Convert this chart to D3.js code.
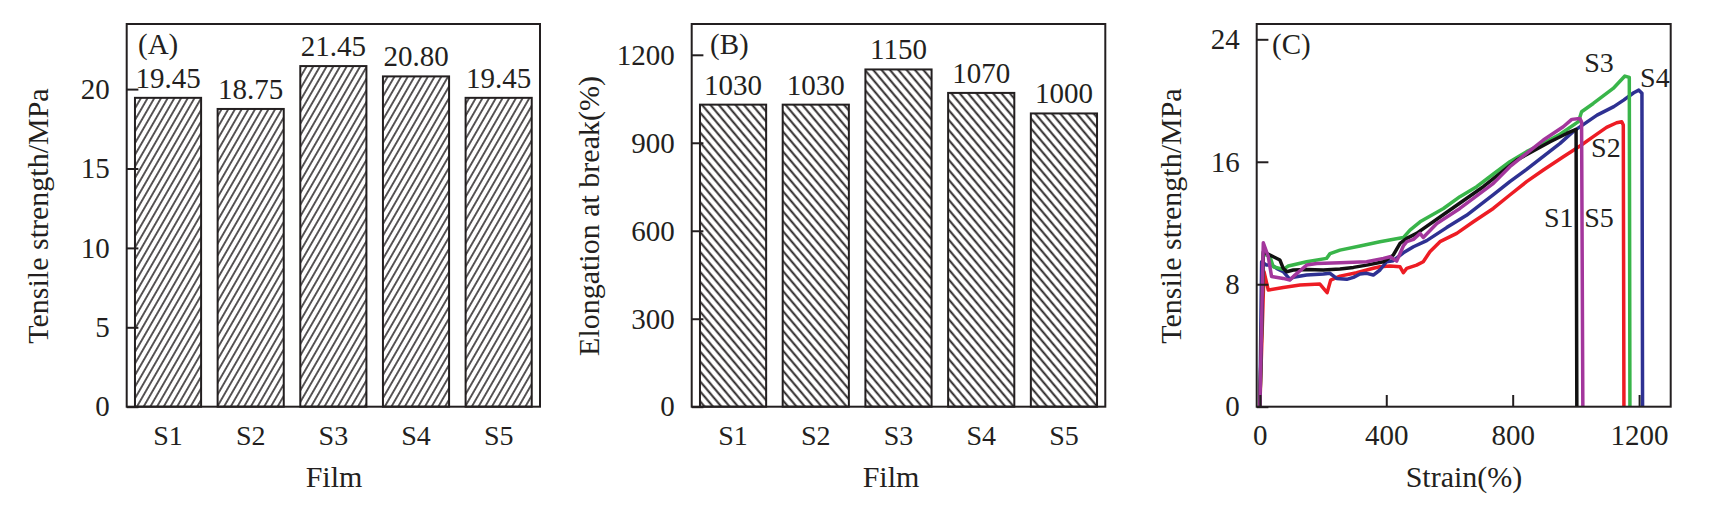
<!DOCTYPE html>
<html lang="en">
<head>
<meta charset="UTF-8">
<title>Film mechanical properties</title>
<script src="https://d3js.org/d3.v7.min.js"></script>
</head>
<body style="margin:0;background:#fff">
<div id="content"></div>
<script>
// ---- data ----
const films = ["S1", "S2", "S3", "S4", "S5"];
const tensile = [19.45, 18.75, 21.45, 20.80, 19.45];
const tensileLabels = ["19.45", "18.75", "21.45", "20.80", "19.45"];
const elongation = [1030, 1030, 1150, 1070, 1000];
const tensileTicks = [0, 5, 10, 15, 20];
const elongTicks = [0, 300, 600, 900, 1200];
const strainTicks = [0, 400, 800, 1200];
const stressTicks = [0, 8, 16, 24];

// stress-strain curves: [strain %, stress MPa]
const curveS1 = [[0,0],[10.9,10.12],[32,9.9],[63.6,9.58],[74,9.04],[84.7,8.82],[105.8,8.93],[148,8.97],[200.7,8.93],[253.5,8.99],[296,9.1],[338,9.25],[391,9.47],[422,9.9],[443.6,10.67],[464.7,11.0],[496,11.32],[601.6,12.85],[707,14.37],[813,16.11],[918.5,17.31],[971,17.85],[1000.6,18.11],[1003,0]];
const curveS2 = [[0,0],[13,8.82],[26.7,7.62],[74,7.79],[127,7.95],[190,8.01],[206,7.62],[213,7.45],[224,8.27],[253.5,8.53],[306,8.75],[359,9.04],[380,9.14],[412,9.19],[443.6,9.14],[454,8.75],[464.7,9.04],[496,9.25],[517,9.47],[538,10.12],[570,10.78],[623,11.32],[675.6,12.08],[738.6,12.95],[791,13.83],[844,14.7],[897,15.46],[960.3,16.33],[1013,17.03],[1055,17.64],[1097,18.25],[1129,18.55],[1145,18.62],[1150,18.4],[1152,0]];
const curveS3 = [[0,0],[10.9,10.0],[32,9.8],[42.5,9.14],[74,8.97],[90,9.19],[148,9.47],[211,9.69],[222,10.0],[253.5,10.23],[317,10.5],[380,10.78],[454,11.05],[475,11.54],[507,12.08],[581,12.95],[633,13.72],[686,14.37],[739,15.2],[791,16.0],[844,16.66],[897,17.2],[950,17.8],[1008,18.62],[1018,19.27],[1055,19.81],[1118,20.79],[1155,21.6],[1169,21.51],[1171,0]];
const curveS4 = [[0,0],[5.6,9.47],[21,9.25],[37,9.25],[53,9.04],[74,8.82],[95,8.32],[106,8.45],[148,8.6],[201,8.67],[222,8.71],[243,8.38],[275,8.32],[296,8.45],[317,8.67],[338,8.71],[359,8.6],[380,8.93],[401,9.47],[422,9.54],[454,10.05],[486,10.45],[528,10.85],[591,11.7],[654,12.5],[739,13.85],[791,14.7],[844,15.5],[897,16.35],[950,17.2],[993,18.0],[1067,19.05],[1120,19.6],[1151,20.03],[1183,20.51],[1199,20.68],[1209,20.47],[1211,0]];
const curveS5 = [[0,0],[10.9,10.71],[26.7,9.8],[37,8.5],[74,8.38],[95,8.27],[111,8.6],[148,9.25],[180,9.36],[253,9.4],[338,9.47],[391,9.69],[412,9.8],[433,9.51],[454,10.5],[465,10.78],[486,10.93],[507,11.32],[517,11.05],[560,11.97],[633,12.95],[739,14.59],[791,15.68],[844,16.55],[897,17.42],[960,18.29],[987,18.77],[1013,18.83],[1018,18.6],[1022,0]];
// curve name labels anchored in data units [strain, stress]
const curveLabelPos = { S1: [946, 11.76], S2: [1095, 16.33], S3: [1073, 21.88], S4: [1250, 20.86], S5: [1073, 11.76] };

const ink = "#231f20";
const fontFam = '"Liberation Serif", "Times New Roman", serif';
const W = 1725, H = 508;
const plotTop = 24, plotBottom = 406.7;

// set serif font inline on text selections
function serif(sel, size) {
    return sel.style("font-family", fontFam).style("font-size", size + "px").attr("fill", ink);
}

const svg = d3.select("#content").append("svg")
    .attr("width", W).attr("height", H)
    .style("display", "block");
svg.append("rect").attr("width", W).attr("height", H).attr("fill", "#fff");

// hatch patterns
const defs = svg.append("defs");
function hatch(id, w, angle, sw) {
    const p = defs.append("pattern").attr("id", id)
        .attr("patternUnits", "userSpaceOnUse")
        .attr("width", w).attr("height", 20)
        .attr("patternTransform", `rotate(${angle})`);
    p.append("rect").attr("width", w).attr("height", 20).attr("fill", "#fff");
    p.append("line").attr("x1", w / 2).attr("x2", w / 2).attr("y1", 0).attr("y2", 20)
        .attr("stroke", ink).attr("stroke-width", sw);
}
hatch("hatchA", 5.8, 30, 1.5);
hatch("hatchB", 6.4, -40, 1.9);

function leftAxis(g, scale, ticks, x) {
    g.attr("transform", `translate(${x},0)`)
        .call(d3.axisLeft(scale).tickValues(ticks).tickSize(-11.7).tickPadding(17).tickFormat(d3.format("d")))
        .call(a => a.select(".domain").remove());
    g.selectAll("line").attr("stroke", ink).attr("stroke-width", 2);
    serif(g.selectAll("text"), 29);
}

function frame(x0, x1) {
    svg.append("rect")
        .attr("x", x0).attr("y", plotTop)
        .attr("width", x1 - x0).attr("height", plotBottom - plotTop)
        .attr("fill", "none").attr("stroke", ink).attr("stroke-width", 2);
}

function yTitle(text, x) {
    serif(svg.append("text"), 30)
        .attr("transform", `translate(${x},216) rotate(-90)`)
        .attr("text-anchor", "middle").attr("dy", "0.35em")
        .text(text);
}

function xTitle(text, x) {
    serif(svg.append("text"), 30).attr("x", x).attr("y", 487)
        .attr("text-anchor", "middle").text(text);
}

function barPanel(x0, x1, values, labels, yDomain, ticks, pattern, tag, tagX) {
    const x = d3.scaleBand().domain(films).range([x0, x1]).paddingInner(0.2).paddingOuter(0.1);
    const y = d3.scaleLinear().domain(yDomain).range([plotBottom, plotTop]);
    const g = svg.append("g");

    g.selectAll("rect.bar").data(films).join("rect")
        .attr("class", "bar")
        .attr("x", d => x(d))
        .attr("y", (d, i) => y(values[i]))
        .attr("width", x.bandwidth())
        .attr("height", (d, i) => y(0) - y(values[i]))
        .attr("fill", `url(#${pattern})`)
        .attr("stroke", ink).attr("stroke-width", 2);

    serif(g.selectAll("text.val").data(films).join("text"), 29)
        .attr("class", "val")
        .attr("x", d => x(d) + x.bandwidth() / 2)
        .attr("y", (d, i) => y(values[i]) - 10)
        .attr("text-anchor", "middle")
        .text((d, i) => labels[i]);

    frame(x0, x1);
    leftAxis(svg.append("g"), y, ticks, x0);

    const xa = svg.append("g").attr("transform", `translate(0,${plotBottom})`)
        .call(d3.axisBottom(x).tickSize(0).tickPadding(18.4));
    xa.select(".domain").remove();
    serif(xa.selectAll("text"), 28);

    serif(svg.append("text"), 29).attr("x", tagX).attr("y", 53.5).text(tag);
}

// (A) tensile strength
barPanel(126.7, 540, tensile, tensileLabels, [0, 24.1], tensileTicks, "hatchA", "(A)", 138);
yTitle("Tensile strength/MPa", 37.5);
xTitle("Film", 334);

// (B) elongation at break
barPanel(691.7, 1105.3, elongation, elongation.map(String), [0, 1305], elongTicks, "hatchB", "(B)", 710);
yTitle("Elongation at break(%)", 588);
xTitle("Film", 891);

// (C) stress-strain curves
const cx0 = 1256.7, cx1 = 1670.7;
const xs = d3.scaleLinear().domain([-10, 1300]).range([cx0, cx1]);
const ys = d3.scaleLinear().domain([0, 25]).range([plotBottom, plotTop]);
const line = d3.line().x(d => xs(d[0])).y(d => ys(d[1]));

const curves = [
    { name: "S2", data: curveS2, color: "#ed1c24" },
    { name: "S4", data: curveS4, color: "#2e3192" },
    { name: "S3", data: curveS3, color: "#39b54a" },
    { name: "S1", data: curveS1, color: "#111111" },
    { name: "S5", data: curveS5, color: "#a3369c" }
];

svg.append("g").selectAll("path").data(curves).join("path")
    .attr("d", d => line(d.data))
    .attr("fill", "none")
    .attr("stroke", d => d.color)
    .attr("stroke-width", 3.5)
    .attr("stroke-linejoin", "round");

frame(cx0, cx1);
leftAxis(svg.append("g"), ys, stressTicks, cx0);

const cxa = svg.append("g").attr("transform", `translate(0,${plotBottom})`)
    .call(d3.axisBottom(xs).tickValues(strainTicks).tickSize(-11.7).tickPadding(17.7).tickFormat(d3.format("d")));
cxa.select(".domain").remove();
cxa.selectAll("line").attr("stroke", ink).attr("stroke-width", 2);
serif(cxa.selectAll("text"), 29);

serif(svg.append("g").selectAll("text").data(films).join("text"), 28)
    .attr("x", d => xs(curveLabelPos[d][0]))
    .attr("y", d => ys(curveLabelPos[d][1]))
    .attr("text-anchor", "middle")
    .text(d => d);

serif(svg.append("text"), 29).attr("x", 1272).attr("y", 53.5).text("(C)");
yTitle("Tensile strength/MPa", 1170);
xTitle("Strain(%)", 1464);
</script>
</body>
</html>
